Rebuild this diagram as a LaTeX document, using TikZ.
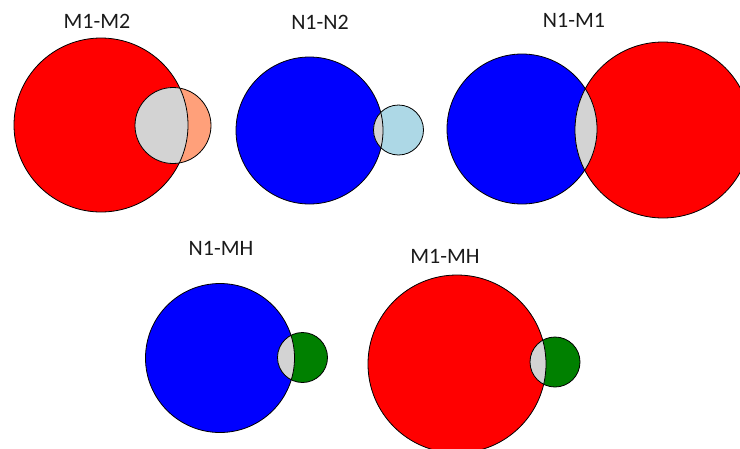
\documentclass[tikz,border=0pt]{standalone}
\usepackage{fontspec}
\setmainfont{Carlito}

\definecolor{salmonfill}{HTML}{FFA07A}
\definecolor{lightbluefill}{HTML}{ADD8E6}
\definecolor{greenfill}{HTML}{008000}
\definecolor{overlapgray}{HTML}{D3D3D3}
\definecolor{lbltext}{HTML}{1A1A1A}

\tikzset{
  circ/.style={draw=black,line width=0.8pt},
  lbl/.style={font=\fontsize{22}{26}\selectfont,text=lbltext,inner sep=0pt}
}

% pair of circles: centre A, radius A, fill A, centre B, radius B, fill B
\newcommand{\vennpair}[6]{%
  \fill[#3] (#1) circle (#2pt);
  \fill[#6] (#4) circle (#5pt);
  \begin{scope}
    \clip (#1) circle (#2pt);
    \fill[overlapgray] (#4) circle (#5pt);
  \end{scope}
  \draw[circ] (#1) circle (#2pt);
  \draw[circ] (#4) circle (#5pt);
}

\begin{document}
\begin{tikzpicture}[x=1pt,y=-1pt]
        \useasboundingbox (0,0) rectangle (740,448);
        % M1-M2
        \node[lbl] (lblmm) at (97,21) {M1-M2};
        \vennpair{101,125}{87}{red}{173,125.5}{38}{salmonfill}
        % N1-N2
        \node[lbl] (lblnn) at (320,22) {N1-N2};
        \vennpair{309.5,130.5}{73.5}{blue}{398.5,130}{25}{lightbluefill}
        % N1-M1
        \node[lbl] (lblnm) at (574,20) {N1-M1};
        \vennpair{522,129}{75}{blue}{663,130}{88}{red}
        % N1-MH
        \node[lbl] (lblnh) at (221,248) {N1-MH};
        \vennpair{220,358}{74.5}{blue}{302.5,357.5}{25}{greenfill}
        % M1-MH
        \node[lbl] (lblmh) at (445,256) {M1-MH};
        \vennpair{457,364}{89}{red}{555,362}{25}{greenfill}
    \end{tikzpicture}
\end{document}
